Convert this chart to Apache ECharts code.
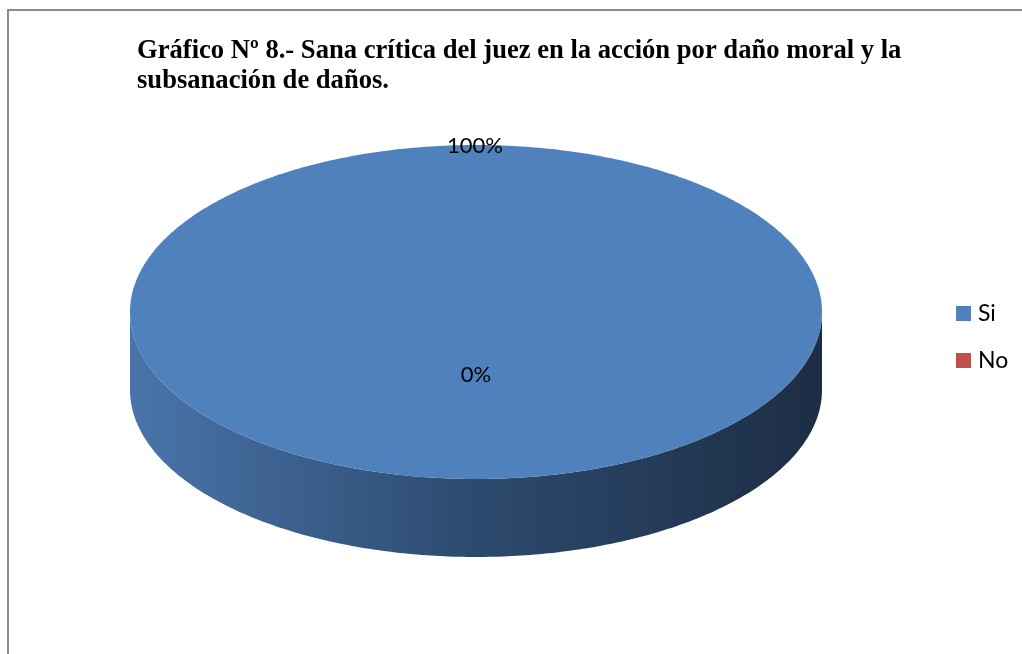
<!DOCTYPE html>
<html>
<head>
<meta charset="utf-8">
<script src="https://cdn.jsdelivr.net/npm/echarts@6/dist/echarts.min.js"></script>
<style>
html,body{margin:0;padding:0;background:#fff;}
#chart{width:1022px;height:654px;}
</style>
</head>
<body>
<div id="chart"></div>
<script>
// ---- data ----
const categories = ['Si', 'No'];
const values = [100, 0];
const labelTexts = ['100%', '0%'];
const colors = ['#4f81bd', '#c0504d'];
const titleText = 'Gráfico Nº 8.- Sana crítica del juez en la acción por daño moral y la\nsubsanación de daños.';

// ---- layout ----
const CX = 476, CY = 312, RX = 346, RY = 167, DEPTH = 78;
const total = values.reduce((a, b) => a + b, 0);

function ellipsePts(a0, a1, dy, n) {
  const pts = [];
  for (let k = 0; k <= n; k++) {
    const a = (a0 + (a1 - a0) * k / n) * Math.PI / 180;
    pts.push([CX + RX * Math.cos(a), CY + dy + RY * Math.sin(a)]);
  }
  return pts;
}

function makeSeries(i) {
  let cum = 0;
  for (let j = 0; j < i; j++) cum += values[j];
  const start = -90 + 360 * cum / total;
  const end = -90 + 360 * (cum + values[i]) / total;
  return {
    type: 'custom',
    name: categories[i],
    coordinateSystem: 'none',
    itemStyle: { color: colors[i] },
    data: [values[i]],
    z: 2,
    renderItem: function (params, api) {
      const children = [];
      const v = values[i];
      if (v > 0) {
        const s0 = Math.max(start, 0), s1 = Math.min(end, 180);
        if (s1 > s0) {
          const top = ellipsePts(s0, s1, 0, 240);
          const bot = ellipsePts(s1, s0, DEPTH, 240);
          children.push({
            type: 'polygon',
            shape: { points: top.concat(bot) },
            style: {
              fill: {
                type: 'linear', x: 0, y: 0, x2: 1, y2: 0,
                colorStops: [
                  { offset: 0, color: '#4a74aa' },
                  { offset: 0.5, color: '#2c4a6e' },
                  { offset: 1, color: '#1d2d45' }
                ]
              }
            }
          });
        }
        let pts = ellipsePts(start, end, 0, 480);
        if (end - start < 360) pts.push([CX, CY]);
        children.push({
          type: 'polygon',
          shape: { points: pts },
          style: { fill: colors[i] }
        });
      }
      let lx = CX, ly = CY + 63;
      if (v === total) { lx = CX - 1; ly = CY - RY + 1; }
      else if (v > 0) {
        const mid = (start + end) / 2 * Math.PI / 180;
        lx = CX + RX * 0.6 * Math.cos(mid);
        ly = CY + RY * 0.6 * Math.sin(mid);
      }
      children.push({
        type: 'text',
        z2: 10,
        style: {
          x: lx, y: ly, text: labelTexts[i],
          fill: '#000', font: '22px Lato',
          align: 'center', verticalAlign: 'middle'
        }
      });
      return { type: 'group', children: children };
    }
  };
}

const chart = echarts.init(document.getElementById('chart'), null, { renderer: 'canvas' });
chart.setOption({
  animation: false,
  backgroundColor: '#fff',
  title: {
    text: titleText,
    left: 137,
    top: 36,
    padding: 0,
    textStyle: {
      fontFamily: 'Liberation Serif',
      fontWeight: 'bold',
      fontSize: 26.6,
      lineHeight: 30,
      color: '#000'
    }
  },
  legend: {
    orient: 'vertical',
    left: 956,
    top: 302,
    padding: 0,
    icon: 'rect',
    itemWidth: 15,
    itemHeight: 15,
    itemGap: 24,
    data: categories,
    textStyle: { fontFamily: 'Lato', fontSize: 23, color: '#000', padding: [0, 0, 0, 2] }
  },
  graphic: [{
    type: 'rect',
    shape: { x: 8, y: 10, width: 1100, height: 1000 },
    style: { fill: 'none', stroke: '#8c8c8c', lineWidth: 2 },
    silent: true
  }],
  series: categories.map((c, i) => makeSeries(i))
});
</script>
</body>
</html>
